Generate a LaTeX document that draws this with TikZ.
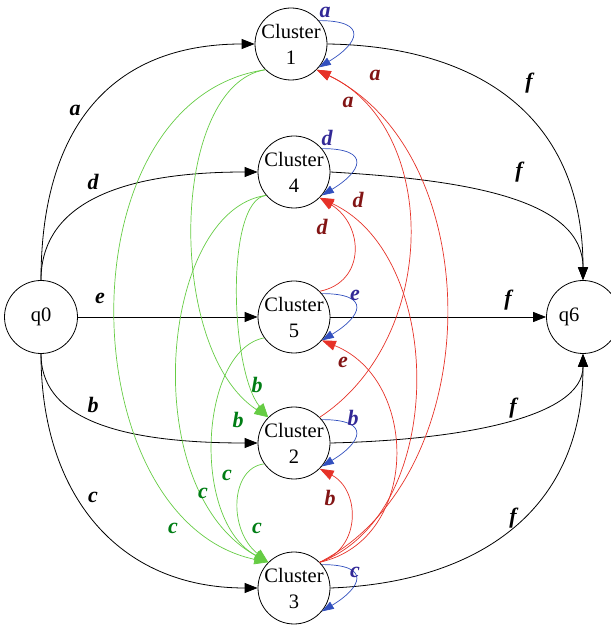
\documentclass[tikz,border=0pt]{standalone}
\usepackage{fontspec}
\setmainfont{Liberation Serif}
\usetikzlibrary{shapes.geometric,arrows.meta}
\definecolor{gline}{RGB}{102,204,68}
\definecolor{glab}{RGB}{0,125,20}
\definecolor{rline}{RGB}{230,50,40}
\definecolor{rlab}{RGB}{130,20,20}
\definecolor{bline}{RGB}{50,80,190}
\definecolor{blab}{RGB}{50,40,150}
\tikzset{
  state/.style={draw, circle, line width=0.8pt, minimum size=72pt, inner sep=-8pt, align=center, font=\fontsize{20.5}{26}\selectfont},
  endstate/.style={state, minimum size=73pt},
  lab/.style={font=\fontsize{22}{26}\selectfont\bfseries\itshape, inner sep=0pt},
  bedge/.style={draw=black, line width=0.8pt, -{Triangle[length=13pt,width=10pt]}},
  gedge/.style={draw=gline, line width=0.7pt, -{Triangle[length=14pt,width=10pt,fill=gline]}},
  redge/.style={draw=rline, line width=0.7pt, -{Triangle[length=14pt,width=10pt,fill=rline]}},
  loopedge/.style={draw=bline, line width=0.7pt, -{Triangle[length=12pt,width=8pt,fill=bline]}}
}
\begin{document}
\begin{tikzpicture}[x=1pt,y=1pt]
\useasboundingbox (0,0) rectangle (611,625);
% nodes
\node[endstate] (q0) at (41,308) {q0};
\node[endstate] (q6) at (583,308) {};
\node[font=\fontsize{20.5}{26}\selectfont, inner sep=0pt] (q6t) at (569,308) {q6};
\node[state] (c1) at (291,581) {Cluster\\1};
\node[state] (c4) at (294,453) {Cluster\\4};
\node[state] (c5) at (294,308) {Cluster\\5};
\node[state] (c2) at (294,182) {Cluster\\2};
\node[state] (c3) at (294,37) {Cluster\\3};
% black edges from q0
\draw[bedge] (q0.north) .. controls +(0,152) and +(-144,0) .. (c1.west);
\draw[bedge] (q0.north) .. controls +(0,70) and +(-150,0) .. (c4.west);
\draw[bedge] (q0.east) -- (c5.west);
\draw[bedge] (q0.south) .. controls +(0,-60) and +(-150,0) .. (c2.west);
\draw[bedge] (q0.south) .. controls +(0,-140) and +(-140,0) .. (c3.west);
% black edges to q6
\draw[bedge] (c1.east) .. controls +(143,-2) and +(0,170) .. (q6.north);
\draw[bedge] (c4.east) .. controls +(140,-8) and +(0,80) .. (q6.north);
\draw[bedge] (c5.east) -- (q6.west);
\draw[bedge] (c2.east) .. controls +(129,3) and +(0,-64) .. (q6.south);
\draw[bedge] (c3.east) .. controls +(138,5) and +(0,-164) .. (q6.south);
% black labels
\node[lab] (la) at (75,515) {a};
\node[lab] (ld) at (93,443) {d};
\node[lab] (le) at (100,327) {e};
\node[lab] (lb) at (93,220) {b};
\node[lab] (lc) at (93,128) {c};
\node[lab] (lf1) at (529,542) {f};
\node[lab] (lf4) at (519,453) {f};
\node[lab] (lf5) at (508,325) {f};
\node[lab] (lf2) at (513,217) {f};
\node[lab] (lf3) at (513,107) {f};
% green edges
\draw[gedge] (c1.225) .. controls (170,540) and (165,275) .. (c2.135);
\draw[gedge] (c1.225) .. controls (60,525) and (70,105) .. (c3.135);
\draw[gedge] (c4.220) .. controls (225,425) and (230,255) .. (c2.135);
\draw[gedge] (c4.220) .. controls (160,415) and (135,135) .. (c3.135);
\draw[gedge] (c5.215) .. controls (200,275) and (190,105) .. (c3.135);
\draw[gedge] (c2.215) .. controls (230,157) and (228,95) .. (c3.135);
\node[lab, text=glab] (gb1) at (257,240) {b};
\node[lab, text=glab] (gb2) at (238,205) {b};
\node[lab, text=glab] (gc1) at (227,150) {c};
\node[lab, text=glab] (gc2) at (203,132) {c};
\node[lab, text=glab] (gc3) at (173,97) {c};
\node[lab, text=glab] (gc4) at (257,97) {c};
% red edges
\draw[redge] (c3.45) .. controls (489,150) and (489,471) .. (c1.-45);
\draw[redge] (c2.45) .. controls (440,287) and (440,497) .. (c1.-45);
\draw[redge] (c3.45) .. controls (447,110) and (447,368) .. (c4.-45);
\draw[redge] (c5.45) .. controls (366,343) and (364,400) .. (c4.-45);
\draw[redge] (c3.45) .. controls (420,85) and (420,245) .. (c5.-40);
\draw[redge] (c3.45) .. controls (362,77) and (360,135) .. (c2.-45);
\node[lab, text=rlab] (ra1) at (375,550) {a};
\node[lab, text=rlab] (ra2) at (348,523) {a};
\node[lab, text=rlab] (rd1) at (358,425) {d};
\node[lab, text=rlab] (rd2) at (322,398) {d};
\node[lab, text=rlab] (re) at (343,263) {e};
\node[lab, text=rlab] (rb) at (330,127) {b};
% blue self loops
\foreach \n in {c1,c4,c5,c2,c3}{
  \draw[loopedge] (\n.40) .. controls +(50,0) and +(40,24) .. (\n.-40);
}
\node[lab, text=blab] (ba) at (325,613) {a};
\node[lab, text=blab] (bd) at (327,487) {d};
\node[lab, text=blab] (be) at (355,330) {e};
\node[lab, text=blab] (bb) at (353,207) {b};
\node[lab, text=blab] (bc) at (355,53) {c};
\end{tikzpicture}
\end{document}
